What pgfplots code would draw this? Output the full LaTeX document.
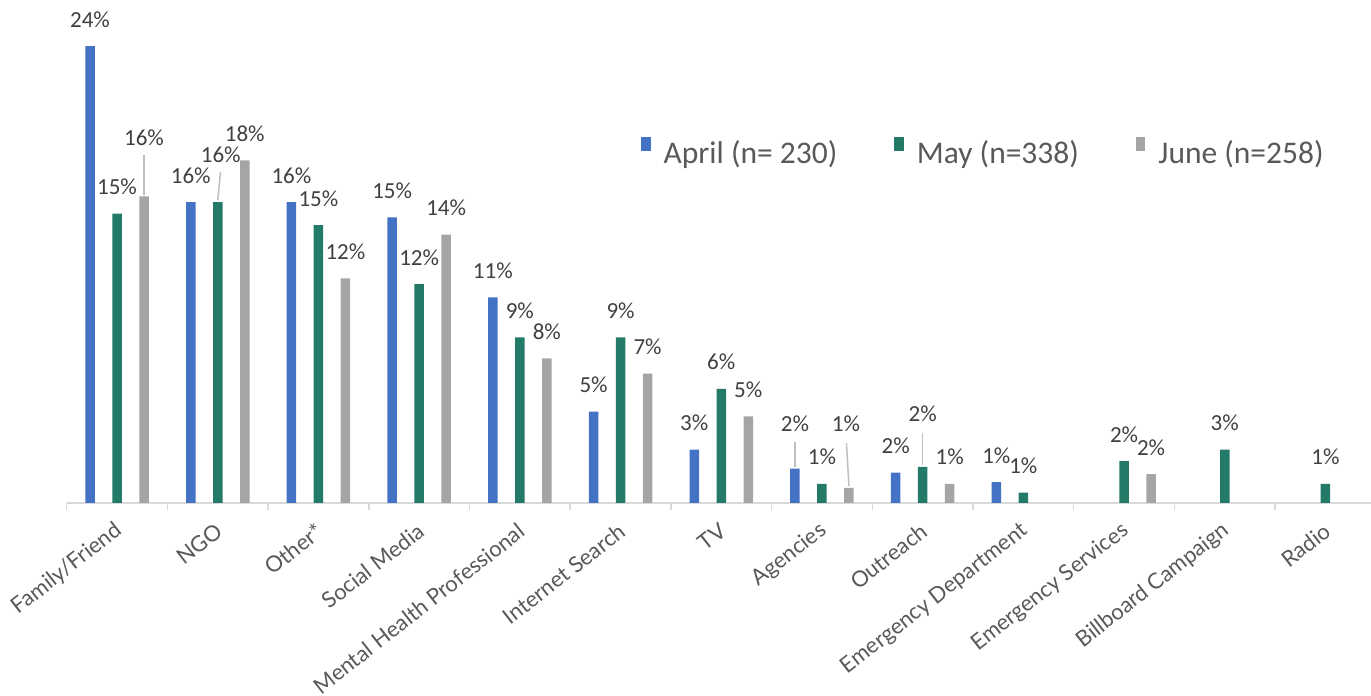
\documentclass[border=0pt]{standalone}
\usepackage{pgfplots}
\pgfplotsset{compat=1.18}
\usepackage{pgfplotstable}
\usepackage{fontspec}
\setmainfont{Carlito}
\newfontfamily\catfont{Lato}

\definecolor{aprilblue}{HTML}{4472C4}
\definecolor{maygreen}{HTML}{237A69}
\definecolor{junegray}{HTML}{A5A5A5}
\definecolor{labelgray}{HTML}{404040}
\definecolor{textgray}{HTML}{595959}
\definecolor{axisgray}{HTML}{D9D9D9}
\definecolor{leadergray}{HTML}{BFBFBF}

% share of referrals per source (%); dy/dx move a label off its bar (pt)
\pgfplotstableread{
x  y     dy   dx
0  24.0  0    0
1  15.8  0    0
2  15.8  0    0
3  15.0  0    0
4  10.8  0    0
5  4.8   0    0
6  2.8   0    0
7  1.8   18   0
8  1.6   0    0
9  1.1   0    0
}\aprildata

\pgfplotstableread{
x  y     dy   dx
0  15.2  0    0
1  15.8  21   3
2  14.6  0    0
3  11.5  0    0
4  8.7   0    0
5  8.7   0    0
6  6.0   0    0
7  1.0   0    0
8  1.9   26   0
9  0.55  0    0
10 2.2   0    0
11 2.8   0    0
12 1.0   0    0
}\maydata

\pgfplotstableread{
x  y     dy   dx
0  16.1  31.5 0
1  18.0  0    0
2  11.8  0    0
3  14.1  0    0
4  7.6   0    0
5  6.8   0    0
6  4.55  0    0
7  0.8   37   -3
8  1.0   0    0
10 1.52  0    0
}\junedata

\begin{document}
\begin{tikzpicture}
\useasboundingbox (0,0) rectangle (1371pt,696pt);
\begin{axis}[
  at={(66.7pt,193pt)}, anchor=south west,
  x=100.7pt, y=19.04pt,
  xmin=-0.5, xmax=12.5, ymin=0, ymax=25.5,
  clip=false,
  ybar,
  axis x line*=bottom, axis y line=none,
  x axis line style={axisgray, line width=1.5pt},
  xtick={0,...,12},
  xticklabels={Family/Friend, NGO, Other*, Social Media, Mental Health Professional, Internet Search, TV, Agencies, Outreach, Emergency Department, Emergency Services, Billboard Campaign, Radio},
  xtick style={draw=none},
  extra x ticks={-0.5,0.5,...,12.5},
  extra x tick labels={},
  extra x tick style={xtick style={draw=axisgray, line width=1.5pt}, major tick length=7pt, tick align=outside},
  xticklabel style={font=\catfont\fontsize{22}{26}\selectfont, text=textgray, inner sep=0pt, anchor=east, xshift=2pt, yshift=-21pt, rotate=38},
  /pgf/number format/assume math mode=true,
  bar width=9.5pt,
  visualization depends on={\thisrow{dy} \as \labdy},
  visualization depends on={\thisrow{dx} \as \labdx},
  nodes near coords={\pgfmathprintnumber[fixed,precision=0]{\pgfplotspointmeta}\%},
  every node near coord/.append style={font=\fontsize{23}{27}\selectfont, text=labelgray, anchor=base, inner sep=0pt, xshift={\labdx*1pt}, yshift={(19+\labdy)*1pt}},
  legend columns=3,
  legend image code/.code={\fill[#1] (0pt,1pt) rectangle (9.5pt,15pt);},
  legend style={draw=none, fill=none, at={(axis description cs:0.4387,0.725)}, anchor=west, inner sep=0pt,
    font=\fontsize{31.5}{36}\selectfont, text=textgray, nodes={inner sep=0pt},
    /tikz/every odd column/.append style={column sep=13pt},
    /tikz/every even column/.append style={column sep=57pt}},
]
\addplot[fill=aprilblue, draw=none, bar shift=-27pt] table[x=x, y=y] {\aprildata};
\addlegendentry{April (n= 230)}
\addplot[fill=maygreen, draw=none, bar shift=0pt] table[x=x, y=y] {\maydata};
\addlegendentry{May (n=338)}
\addplot[fill=junegray, draw=none, bar shift=27pt] table[x=x, y=y] {\junedata};
\addlegendentry{June (n=258)}

% leader lines from moved labels back to their bars
\draw[leadergray, line width=1.5pt] (axis cs:0.268,16.2) -- (axis cs:0.268,18.28);
\draw[leadergray, line width=1.5pt] (axis cs:1,15.9) -- (axis cs:1.027,17.38);
\draw[leadergray, line width=1.5pt] (axis cs:6.732,1.88) -- (axis cs:6.732,3.2);
\draw[leadergray, line width=1.5pt] (axis cs:7.268,0.9) -- (axis cs:7.243,3.15);
\draw[leadergray, line width=1.5pt] (axis cs:8,1.98) -- (axis cs:8,3.69);
\end{axis}
\end{tikzpicture}
\end{document}
